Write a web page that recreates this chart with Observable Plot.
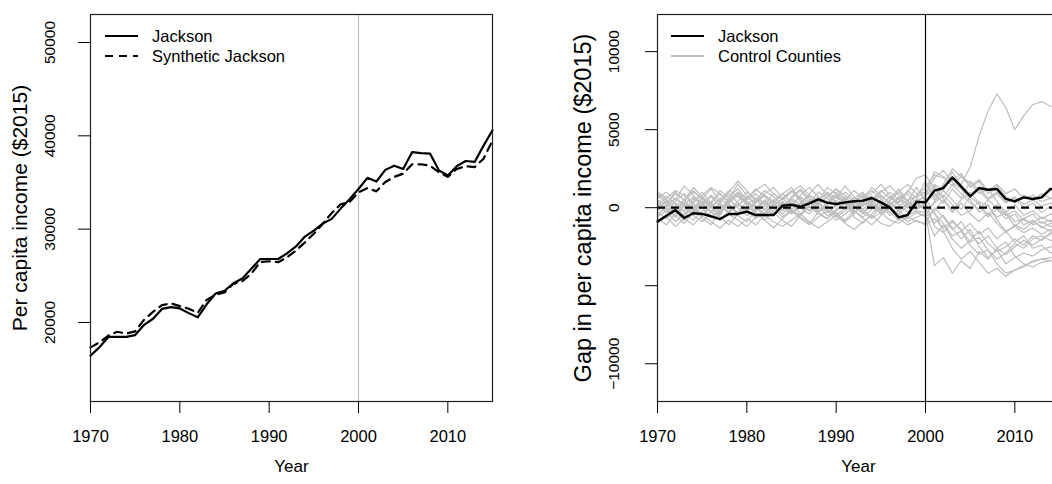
<!DOCTYPE html>
<html>
<head>
<meta charset="utf-8">
<script src="https://cdn.jsdelivr.net/npm/d3@7"></script>
<script src="https://cdn.jsdelivr.net/npm/@observablehq/plot@0.6"></script>
<style>
  html, body { margin: 0; padding: 0; background: #fff; }
  #page { position: relative; width: 1052px; height: 484px; overflow: hidden; background: #fff; font-family: "Liberation Sans", Arial, sans-serif; }
  #left, #right { position: absolute; top: 0; height: 484px; }
  #left { left: 0; width: 526px; }
  #right { left: 526px; width: 567px; }
  #left svg, #right svg { max-width: none !important; display: block; }
  #legend { position: absolute; left: 0; top: 0; pointer-events: none; }
</style>
</head>
<body>
<div id="page">
  <div id="left"></div>
  <div id="right"></div>
  <svg id="legend" width="1052" height="484"></svg>
</div>
<script>
// ---------------- data ----------------
const years = [1970,1971,1972,1973,1974,1975,1976,1977,1978,1979,1980,1981,1982,1983,1984,1985,1986,1987,1988,1989,1990,1991,1992,1993,1994,1995,1996,1997,1998,1999,2000,2001,2002,2003,2004,2005,2006,2007,2008,2009,2010,2011,2012,2013,2014,2015];

const jackson = [16450,17350,18450,18450,18450,18650,19750,20400,21450,21650,21500,21000,20550,21950,23100,23400,24200,24700,25750,26800,26800,26800,27400,28150,29200,29850,30600,31100,32200,33200,34300,35500,35100,36350,36800,36450,38250,38150,38100,36300,35750,36750,37300,37200,38950,40600];

const synthetic = [17330,17860,18600,19000,18810,19050,20300,21130,21850,22050,21750,21470,21020,22420,22970,23210,24140,24420,25220,26480,26560,26460,26990,27700,28580,29510,30580,31720,32670,32900,33950,34400,34050,35050,35600,35950,36950,36950,36800,36100,35600,36450,36750,36650,37550,39500];

const gapJackson = [-880,-510,-150,-660,-360,-400,-550,-730,-400,-400,-250,-470,-470,-470,130,190,60,280,530,320,240,340,410,450,620,340,20,-620,-470,385,340,1090,1260,1940,1350,730,1260,1150,1200,560,410,660,560,660,1200,1150];

const control01 = [200,-300,400,900,100,-500,300,1100,600,1500,800,100,-400,300,900,1300,500,-200,400,1000,600,1400,700,200,900,1500,800,300,1100,600,1700,500,1400,1800,1500,2600,4600,6200,7300,6400,5000,5900,6600,6800,6500,6400];
const control02 = [-600,-200,-900,-400,300,-700,-1100,-300,200,-500,-900,-200,400,-300,-800,-1200,-500,100,-400,-700,-200,300,-600,-1000,-400,200,-300,-800,-500,-200,-300,-3700,-3200,-4200,-3400,-3900,-2800,-3300,-2600,-2200,-3100,-3600,-3800,-3500,-3400,-3300];
const control03 = [800,300,1000,500,-200,600,1200,400,900,300,-300,500,1100,700,200,-400,300,800,400,1300,900,200,600,1000,300,-200,500,1200,400,100,600,-400,-1000,-1800,-1500,-2400,-3000,-2700,-3600,-4200,-4000,-3800,-3400,-3300,-3200,-3000];
const control04 = [-200,500,200,-600,400,1000,300,-300,700,1200,500,900,200,-500,100,600,1100,400,-300,200,800,300,-400,500,1100,600,-100,400,900,300,800,1900,2400,1600,1200,500,-300,200,-800,-1500,-2200,-1800,-2600,-2400,-2900,-2700];
const control05 = [400,-100,-600,200,700,300,-300,-800,-200,400,1000,600,-100,500,900,300,-400,200,700,100,-500,0,400,-200,-600,100,700,200,-300,400,-200,300,800,200,-500,-200,400,100,-600,-300,-900,-700,-1100,-900,-1200,-1100];
const control06 = [-900,-500,100,-300,-800,-200,400,900,300,-400,-100,-700,-300,200,-200,700,1200,600,100,-500,-300,-900,-400,300,700,200,-500,-200,300,-100,200,1400,600,-200,500,1000,300,-500,200,-400,-1200,-700,-400,-1000,-800,-1300];
const control07 = [600,1000,500,1400,800,200,-300,300,1000,1700,1100,400,900,1300,600,100,800,1300,700,300,1000,400,-100,600,1300,800,200,700,200,800,1300,2100,1900,1400,2000,1600,900,1200,400,-300,200,-500,-200,-700,-400,-600];
const control08 = [-400,0,-500,-1000,-300,200,-200,-600,-1100,-400,100,-300,-800,-1300,-700,-200,-600,-1000,-300,100,-400,-800,-200,-700,-1100,-500,0,-400,-900,-600,-400,-1800,-1100,-2000,-2600,-2100,-1500,-2300,-2800,-2500,-2000,-2400,-1800,-2100,-1600,-1700];
const control09 = [100,700,300,-200,600,200,800,300,-300,200,600,1200,700,100,-400,200,700,300,1000,600,100,500,1100,600,0,-300,200,600,1000,1900,2100,1200,700,1500,900,300,-100,500,0,-500,-200,-800,-1000,-600,-900,-700];
const control10 = [-700,-1100,-400,100,-500,-900,-300,200,-400,-800,-1200,-600,-100,-500,300,-200,-700,-1100,-600,-200,-800,-400,100,-300,-700,-300,-800,-1000,-600,-900,-1000,0,-600,-1400,-900,-1700,-2300,-1800,-2600,-3000,-2500,-2100,-2400,-2000,-1700,-1500];
const control11 = [300,0,600,200,-100,400,0,-500,500,1000,300,-200,100,500,0,-400,100,500,-200,300,700,200,-300,100,500,-100,300,-200,200,500,700,1500,1100,2300,1400,800,1300,600,1000,400,700,200,500,100,300,0];
const control12 = [900,500,-100,400,1000,600,100,500,1100,700,200,600,200,900,500,1100,600,0,500,900,400,1000,500,-100,400,1000,1400,800,400,1300,400,-1200,-1600,-900,-1400,-2200,-1900,-2700,-3300,-2900,-2300,-2600,-2000,-1800,-2100,-1900];
const control13 = [-300,-700,-200,300,-100,-500,100,-400,300,800,200,-300,-800,-200,400,-100,-500,100,-300,-700,-100,300,-200,-600,-100,400,0,-400,100,-300,-500,400,1100,500,-100,700,200,-600,-100,-700,-400,-1100,-800,-1300,-1000,-1200];
const control14 = [500,200,-300,-800,-200,300,700,100,-300,200,-200,300,800,300,-200,500,0,-400,200,700,1200,500,0,400,-100,500,1000,500,0,200,-100,-1000,-500,-1300,-2000,-1400,-2500,-3200,-2700,-3600,-3200,-2900,-3100,-2700,-2500,-2600];
const control15 = [-500,100,600,100,-400,0,-600,-200,500,0,-500,-100,400,0,-600,-100,300,800,300,-300,100,600,200,-300,300,800,300,-200,-700,-300,-600,-200,500,-300,300,-400,-900,-300,-1000,-1600,-1100,-1400,-900,-1200,-1500,-1300];
const control16 = [1000,600,1100,800,300,800,1300,900,400,1000,600,1100,1500,900,500,1000,1400,800,300,700,1200,800,400,900,500,1100,600,1000,1500,900,1000,700,1500,2500,2000,1400,1800,1100,1500,900,1200,600,800,400,600,300];
const control17 = [-1000,-600,-1200,-700,-1100,-500,-900,-1300,-800,-1200,-700,-1100,-500,-900,-1200,-800,-400,-900,-1300,-900,-500,-1000,-1400,-900,-500,-1000,-1200,-700,-1100,-800,-1100,-700,-1300,-800,-1500,-1000,-1700,-1300,-2000,-1500,-1200,-1600,-1300,-1700,-1400,-1600];
const control18 = [200,-300,100,500,1100,500,0,600,100,-300,400,0,-500,100,600,1100,400,-200,300,-100,-600,-200,300,800,200,-400,100,600,200,0,300,900,300,1200,600,1700,1100,500,900,300,600,0,300,-300,100,-200];
const control19 = [0,400,-100,-500,0,600,200,-200,400,900,400,0,500,-100,300,-300,200,-200,300,-300,200,700,100,-400,200,-200,400,1000,400,-100,200,-300,-1500,-2600,-3300,-2800,-3500,-4200,-3900,-4400,-4000,-3700,-3500,-3300,-3400,-3200];
const control20 = [-200,200,900,500,1300,700,200,-100,500,100,700,300,800,400,100,600,200,900,1500,800,300,-100,400,100,600,200,-300,100,500,700,900,2300,2000,1700,2200,1300,1700,900,1400,700,300,800,500,900,600,800];

const treatmentYear = 2000;
const xTicks = [1970, 1980, 1990, 2000, 2010];
const yTicksLeft = [20000, 30000, 40000, 50000];
const yTicksRight = [-10000, -5000, 0, 5000, 10000];
const yLabelsRight = [-10000, 0, 5000, 10000];
const legendLeft = ["Jackson", "Synthetic Jackson"];
const legendRight = ["Jackson", "Control Counties"];

// ---------------- tables ----------------
const rows = years.map((year, i) => ({year, jackson: jackson[i], synthetic: synthetic[i], gap: gapJackson[i]}));
const controls = [control01,control02,control03,control04,control05,control06,control07,control08,control09,control10,control11,control12,control13,control14,control15,control16,control17,control18,control19,control20];
const controlRows = controls.flatMap((vals, k) => vals.map((v, i) => ({year: years[i], gap: v, id: k})));

const FONT = "'Liberation Sans', Arial, Helvetica, sans-serif";
const fmt = d => (d < 0 ? "\u2212" + Math.abs(d) : String(d));

function commonAxes(yTicks, yLabels, yTitle, yTitleDx, yLabelDx, titleSize) {
  return [
    Plot.axisX(xTicks, {tickSize: 12, tickFormat: () => "", label: null, stroke: "black"}),
    Plot.axisY(yTicks, {tickSize: 12, tickFormat: () => "", label: null, stroke: "black"}),
    Plot.text(xTicks, {x: d => d, frameAnchor: "bottom", dy: 40, text: d => String(d), fontSize: 16.5, fill: "black", textAnchor: "middle"}),
    Plot.text(["Year"], {frameAnchor: "bottom", dy: 70, text: d => d, fontSize: 17, fill: "black", textAnchor: "middle"}),
    Plot.text(yLabels, {y: d => d, frameAnchor: "left", dx: yLabelDx, rotate: -90, text: fmt, fontSize: 15.5, fill: "black", textAnchor: "middle"}),
    Plot.text([yTitle], {frameAnchor: "left", dx: yTitleDx, rotate: -90, text: d => d, fontSize: titleSize, fill: "black", textAnchor: "middle"})
  ];
}

const left = Plot.plot({
  width: 526, height: 484,
  marginLeft: 90, marginRight: 34, marginTop: 14, marginBottom: 83,
  style: {fontFamily: FONT, background: "white", color: "black", maxWidth: "none"},
  x: {domain: [1970, 2015]},
  y: {domain: [11530, 53000]},
  marks: [
    Plot.ruleX([treatmentYear], {stroke: "#bebebe", strokeWidth: 1.2}),
    Plot.line(rows, {x: "year", y: "synthetic", stroke: "black", strokeWidth: 2.2, strokeDasharray: "8,6"}),
    Plot.line(rows, {x: "year", y: "jackson", stroke: "black", strokeWidth: 2.2}),
    Plot.frame({stroke: "#222", strokeWidth: 1.2}),
    ...commonAxes(yTicksLeft, yTicksLeft, "Per capita income ($2015)", -70, -40, 21)
  ]
});

const right = Plot.plot({
  width: 567, height: 484,
  marginLeft: 131, marginRight: 34, marginTop: 14, marginBottom: 83,
  style: {fontFamily: FONT, background: "white", color: "black", maxWidth: "none"},
  x: {domain: [1970, 2015]},
  y: {domain: [-12420, 12380]},
  marks: [
    Plot.line(controlRows, {x: "year", y: "gap", z: "id", stroke: "#bebebe", strokeWidth: 1.2}),
    Plot.ruleY([0], {stroke: "black", strokeWidth: 2.2, strokeDasharray: "8,6"}),
    Plot.ruleX([treatmentYear], {stroke: "black", strokeWidth: 1.2}),
    Plot.line(rows, {x: "year", y: "gap", stroke: "black", strokeWidth: 2.4}),
    Plot.frame({stroke: "#222", strokeWidth: 1.2}),
    ...commonAxes(yTicksRight, yLabelsRight, "Gap in per capita income ($2015)", -74, -43, 23.5)
  ]
});

document.getElementById("left").appendChild(left);
document.getElementById("right").appendChild(right);

// ---------------- legends ----------------
const lg = d3.select("#legend");
function legend(x0, labels, styles) {
  labels.forEach((lab, i) => {
    const y = 36 + i * 20;
    lg.append("line").attr("x1", x0).attr("x2", x0 + 33).attr("y1", y).attr("y2", y)
      .attr("stroke", styles[i].stroke).attr("stroke-width", 2.2)
      .attr("stroke-dasharray", styles[i].dash || null);
    lg.append("text").attr("x", x0 + 47).attr("y", y).attr("dy", "0.36em")
      .attr("font-family", FONT).attr("font-size", 16.5).attr("fill", "black").text(lab);
  });
}
legend(105, legendLeft, [{stroke: "black"}, {stroke: "black", dash: "8,6"}]);
legend(671, legendRight, [{stroke: "black"}, {stroke: "#bebebe"}]);
</script>
</body>
</html>
